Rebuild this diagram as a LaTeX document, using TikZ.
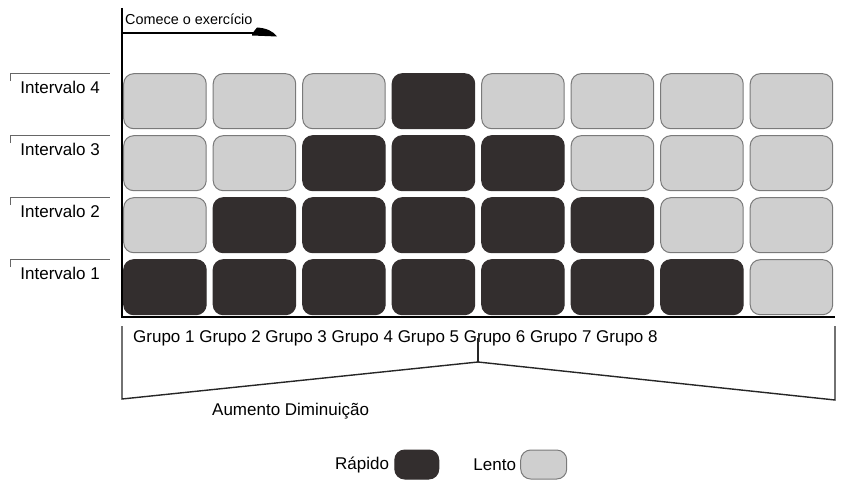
\documentclass[tikz,border=0pt]{standalone}
\usepackage{fontspec}
\setmainfont{Liberation Sans}
\usepackage{tikz}
\usetikzlibrary{matrix, positioning}
\definecolor{rapido}{HTML}{332E2E}
\definecolor{lento}{HTML}{CFCFCF}
\definecolor{borda}{HTML}{7A7A7A}

\begin{document}
\begin{tikzpicture}[x=1pt, y=-1pt,
  fast/.style={draw=rapido, fill=rapido, line width=1pt, rounded corners=10pt,
               minimum width=82.5pt, minimum height=55pt, inner sep=0pt},
  slow/.style={fast, draw=borda, fill=lento},
  txt/.style={inner sep=0pt, font=\fontsize{17}{20}\selectfont},
  axis/.style={line width=1.6pt, black},
  bracket/.style={line width=1.4pt, black!85},
  tab/.style={line width=1.2pt, black!60}]
\useasboundingbox (0,0) rectangle (848,481);
%
\matrix (grid) [matrix of nodes, nodes in empty cells, anchor=north west, inner sep=0pt,
         row sep=6pt, column sep=6pt, nodes={slow}] at (123,73)
{
           &          &          & |[fast]| &          &          &          & \\
           &          & |[fast]| & |[fast]| & |[fast]| &          &          & \\
           & |[fast]| & |[fast]| & |[fast]| & |[fast]| & |[fast]| &          & \\
  |[fast]| & |[fast]| & |[fast]| & |[fast]| & |[fast]| & |[fast]| & |[fast]| & \\
};

% axes
\draw[axis] (122,8) -- (122,317) -- (835,317);
\node (start) [inner sep=0pt, anchor=base west, font=\fontsize{14.4}{17}\selectfont] at (125,25) {Comece o exercício};
\coordinate (tip) at (254,33);
\draw[axis] (122,33) -- (tip);
\fill (252,33.8) -- (257,27.5) .. controls (266,28) and (273,31) .. (277,36.5) -- (252,35.5) -- cycle;

% intervals
\foreach \r in {1,...,4} {
  \pgfmathtruncatemacro\n{5-\r}
  \draw[tab] ([xshift=-113pt,yshift=-8pt]grid-\r-1.north west) -- ([xshift=-113pt]grid-\r-1.north west)
             -- ([xshift=-13pt]grid-\r-1.north west);
  \node (int\n) [txt, anchor=base west] at ([xshift=-103pt,yshift=-20pt]grid-\r-1.north west) {Intervalo \n};
}

% groups
\node (groups) [txt, anchor=base west] at (133,342)
  {Grupo 1 Grupo 2 Grupo 3 Grupo 4 Grupo 5 Grupo 6 Grupo 7 Grupo 8};
\coordinate (lo) at (122,399);
\coordinate (mid) at (478,362);
\coordinate (ro) at (835,400);
\draw[bracket] (122,326) -- (lo) -- (mid) -- (ro) -- (835,326);
\draw[bracket] (478,338) -- (mid);
\node (trend) [txt, anchor=base west] at (212,415) {Aumento Diminuição};

% legend
\node (fastlbl) [txt, anchor=base west] at (335,469) {Rápido};
\node (fastkey) [fast, minimum width=44pt, minimum height=29pt, right=5pt of fastlbl] {};
\node (slowlbl) [txt, right=34pt of fastkey] {Lento};
\node (slowkey) [slow, minimum width=46pt, minimum height=29pt, right=4pt of slowlbl] {};
%
\end{tikzpicture}
\end{document}
